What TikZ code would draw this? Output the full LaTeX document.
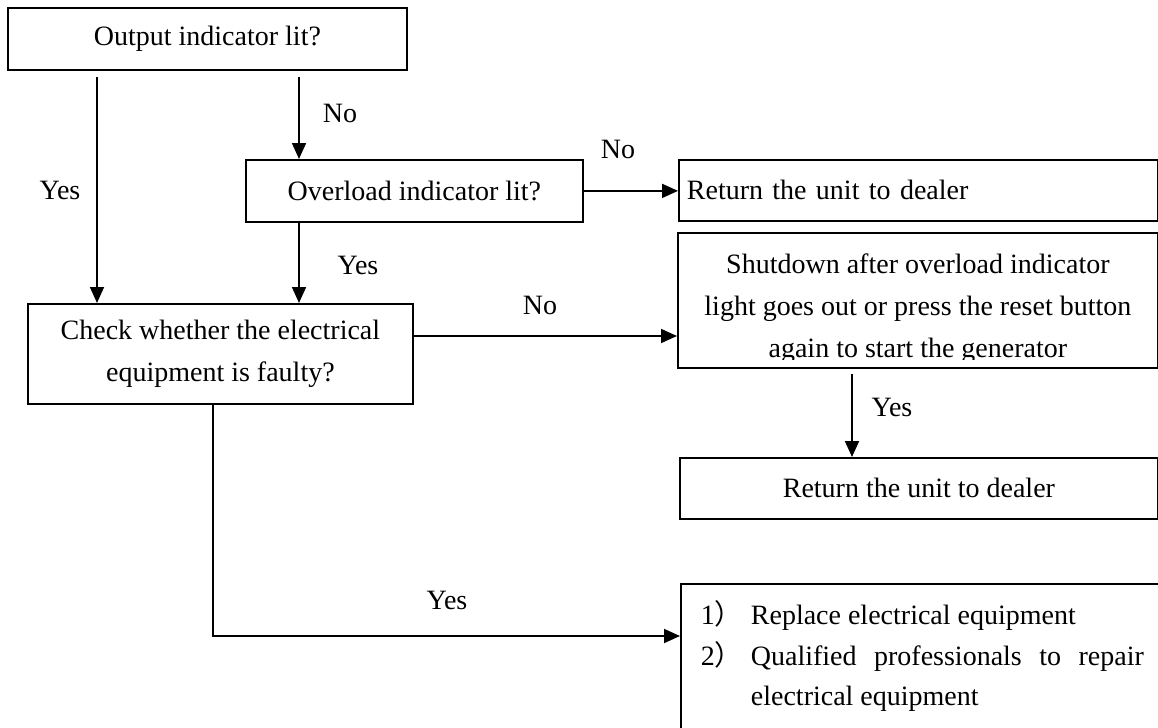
\documentclass[tikz,border=0pt]{standalone}
\usepackage{fontspec}
\setmainfont{Liberation Serif}
\newfontfamily\cjk{Noto Sans CJK SC}
\usetikzlibrary{arrows.meta}
\newcommand{\flowfont}{\fontsize{14}{21}\selectfont}
\tikzset{
  box/.style={draw, line width=0.9pt, inner sep=2pt, align=center, font=\flowfont, anchor=north west},
  arr/.style={-{Triangle[length=8pt, width=7pt]}, line width=0.9pt},
  lbl/.style={font=\flowfont, inner sep=0pt},
}

\begin{document}
\begin{tikzpicture}[x=0.5pt, y=-0.5pt]
    \clip (0,0) rectangle (1158,728);
    % boxes
    \node[box, minimum width=199.5pt, minimum height=31pt] (out) at (7,7) {Output indicator lit?};
    \node[box, minimum width=168.5pt, minimum height=31pt] (ovl) at (245,159) {Overload indicator lit?};
    \node[box, minimum width=239.5pt, minimum height=30.5pt, text width=231.5pt, inner xsep=4pt, align=left] (ret1) at (678,159) {Return the unit to dealer};
    \node[box, minimum width=240pt, minimum height=67.5pt] (shut) at (677,232) {};
    \begin{scope}
      \clip ([yshift=4.5pt]shut.south west) rectangle (shut.north east);
      \node[font=\flowfont, align=center] (shuttext) at ([yshift=-4.25pt]shut.center)
        {Shutdown after overload indicator\\light goes out or press the reset button\\again to start the generator};
    \end{scope}
    \node[box, minimum width=192.5pt, minimum height=50pt] (chk) at (27,303) {Check whether the electrical\\equipment is faulty?};
    \node[box, minimum width=239pt, minimum height=30.5pt] (ret2) at (679,457) {Return the unit to dealer};
    \node[box, align=left, inner xsep=10pt, inner ysep=10.5pt, text height=10pt, text depth=62pt] (fix) at (680,583)
      {\parbox[t]{221.5pt}{\fontsize{14}{20.25}\selectfont\tolerance=9999\hbadness=10000
        \hangindent=25pt\hangafter=1\makebox[25pt][l]{1\cjk{）}}Replace electrical equipment\par
        \hangindent=25pt\hangafter=1\makebox[25pt][l]{2\cjk{）}}Qualified professionals to repair electrical equipment\par}};

    % labels
    \node[lbl] (lno1) at (340,113) {No};
    \node[lbl] (lyes1) at (60,190) {Yes};
    \node[lbl] (lno2) at (618,149) {No};
    \node[lbl] (lyes2) at (358,265) {Yes};
    \node[lbl] (lno3) at (540,305) {No};
    \node[lbl] (lyes3) at (892,407) {Yes};
    \node[lbl] (lyes4) at (447,600) {Yes};

    % lanes of the connectors
    \coordinate (xa) at (97,0);
    \coordinate (xb) at (299,0);
    \coordinate (xc) at (852,0);
    \coordinate (xd) at (213,0);
    \coordinate (ya) at (0,336);
    \coordinate (yb) at (0,636);

    \draw[arr, shorten <=3pt] (out.south -| xa) -- (chk.north -| xa);
    \draw[arr, shorten <=3pt] (out.south -| xb) -- (ovl.north -| xb);
    \draw[arr] (ovl.south -| xb) -- (chk.north -| xb);
    \draw[arr] (ovl.east) -- (ovl.east -| ret1.west);
    \draw[arr] (chk.east |- ya) -- (shut.west |- ya);
    \draw[arr, shorten <=2.5pt] (shut.south -| xc) -- (ret2.north -| xc);
    \draw[arr] (chk.south -| xd) |- (fix.west |- yb);
\end{tikzpicture}
\end{document}
